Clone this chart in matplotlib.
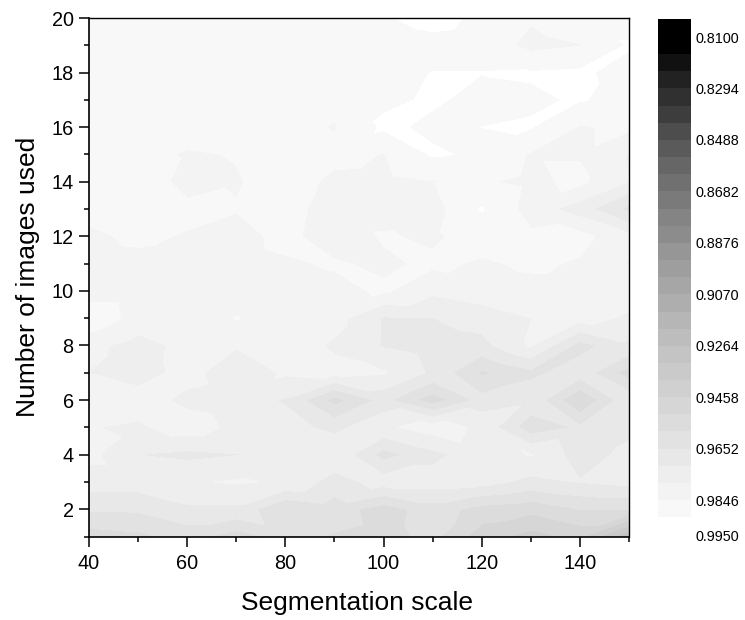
import numpy as np
import matplotlib
matplotlib.use('Agg')
import matplotlib.pyplot as plt
import matplotlib.tri as mtri
from matplotlib.colors import ListedColormap
from matplotlib.ticker import MultipleLocator

plt.rcParams['font.family'] = ['Liberation Sans', 'DejaVu Sans']

# data
seg_scale = [40, 50, 60, 70, 80, 90, 100, 110, 120, 130, 140, 150]
n_images = list(range(1, 21))
accuracy = [
    [.9555, .9571, .9613, .9555, .9613, .9581, .9562, .9607, .9490, .9432, .9478, .9264],
    [.9659, .9662, .9704, .9704, .9584, .9620, .9555, .9620, .9562, .9542, .9587, .9587],
    [.9749, .9749, .9775, .9788, .9775, .9685, .9749, .9749, .9743, .9697, .9720, .9736],
    [.9801, .9716, .9701, .9714, .9743, .9775, .9626, .9697, .9756, .9785, .9685, .9736],
    [.9785, .9772, .9814, .9765, .9743, .9697, .9769, .9814, .9769, .9607, .9662, .9697],
    [.9795, .9814, .9765, .9749, .9710, .9562, .9672, .9549, .9675, .9704, .9520, .9704],
    [.9781, .9749, .9807, .9736, .9791, .9801, .9788, .9704, .9575, .9633, .9691, .9555],
    [.9801, .9756, .9801, .9788, .9817, .9772, .9710, .9685, .9697, .9788, .9626, .9704],
    [.9892, .9820, .9807, .9848, .9814, .9807, .9710, .9716, .9743, .9781, .9807, .9772],
    [.9814, .9814, .9814, .9820, .9820, .9827, .9856, .9795, .9820, .9827, .9827, .9814],
    [.9820, .9827, .9820, .9820, .9837, .9853, .9833, .9859, .9837, .9856, .9840, .9778],
    [.9833, .9859, .9840, .9820, .9866, .9807, .9853, .9833, .9879, .9856, .9866, .9801],
    [.9866, .9872, .9866, .9850, .9872, .9814, .9814, .9820, .9914, .9820, .9749, .9633],
    [.9879, .9905, .9814, .9840, .9879, .9830, .9827, .9843, .9853, .9830, .9862, .9781],
    [.9879, .9872, .9837, .9850, .9872, .9866, .9843, .9917, .9903, .9840, .9840, .9778],
    [.9879, .9879, .9885, .9879, .9879, .9840, .9921, .9901, .9911, .9914, .9840, .9859],
    [.9879, .9879, .9879, .9879, .9879, .9872, .9901, .9917, .9898, .9906, .9914, .9895],
    [.9879, .9879, .9879, .9879, .9872, .9845, .9872, .9912, .9912, .9914, .9921, .9888],
    [.9879, .9879, .9879, .9879, .9879, .9872, .9879, .9892, .9885, .9827, .9843, .9917],
    [.9879, .9879, .9879, .9879, .9879, .9879, .9905, .9930, .9898, .9853, .9885, .9885],
]
levels = [.8032, .8165, .8229, .8294, .8359, .8423, .8488, .8553, .8617, .8682, .8747,
          .8811, .8876, .8941, .9005, .9070, .9135, .9199, .9264, .9329, .9393, .9458,
          .9523, .9587, .9652, .9717, .9782, .9846, .9911, .9985]
band_colors = ['#000000', '#111111', '#222222', '#303030', '#3d3d3d', '#4d4d4d', '#5a5a5a',
               '#666666', '#707070', '#7a7a7a', '#848484', '#8c8c8c', '#969696', '#9e9e9e',
               '#a6a6a6', '#aeaeae', '#b6b6b6', '#bdbdbd', '#c4c4c4', '#cacaca', '#d0d0d0',
               '#d6d6d6', '#dcdcdc', '#e2e2e2', '#e8e8e8', '#eeeeee', '#f3f3f3', '#f8f8f8',
               '#ffffff']
bar_ticks = [.8100, .8294, .8488, .8682, .8876, .9070, .9264, .9458, .9652, .9846, .9979]
bar_labels = ['0.8100', '0.8294', '0.8488', '0.8682', '0.8876', '0.9070', '0.9264',
              '0.9458', '0.9652', '0.9846', '0.9950']
# grid cells (column, row) where the contours run along the other diagonal
flip_cells = [(7, 14), (7, 15), (9, 14), (5, 10), (9, 6)]

W, H = 745, 620
fig = plt.figure(figsize=(W / 100, H / 100), dpi=100)
ax = fig.add_axes([89 / W, 1 - 536.5 / H, 540 / W, 518.5 / H])

# split every grid cell along the diagonal with the higher values, so low
# islands stay apart as they do in the original
z = np.array(accuracy)
nx = len(seg_scale)
triangles = []
for j in range(len(n_images) - 1):
    for i in range(nx - 1):
        a, b = j * nx + i, j * nx + i + 1
        c, d = a + nx, b + nx
        along_ad = z[j, i] + z[j + 1, i + 1] > z[j, i + 1] + z[j + 1, i]
        if (i, j) in flip_cells:
            along_ad = not along_ad
        if along_ad:
            triangles += [[a, b, d], [a, d, c]]
        else:
            triangles += [[a, b, c], [b, d, c]]
xx, yy = np.meshgrid(seg_scale, n_images)
tri = mtri.Triangulation(xx.ravel(), yy.ravel(), triangles)
ax.tricontourf(tri, z.ravel(), levels=levels, colors=band_colors)

ax.set_xlim(40, 150)
ax.set_ylim(1, 20)
ax.xaxis.set_major_locator(MultipleLocator(20))
ax.xaxis.set_minor_locator(MultipleLocator(10))
ax.yaxis.set_major_locator(MultipleLocator(2))
ax.yaxis.set_minor_locator(MultipleLocator(1))
ax.tick_params(which='major', length=7, width=1.1, labelsize=14.3, pad=4)
ax.tick_params(axis='x', which='major', pad=5.5)
ax.tick_params(which='minor', length=3.6, width=1.1)
for side in ['left', 'bottom']:
    ax.spines[side].set_linewidth(1.2)
for side in ['top', 'right']:
    ax.spines[side].set_linewidth(1.0)
ax.set_xlabel('Segmentation scale', fontsize=19, labelpad=13, x=0.496)
ax.set_ylabel('Number of images used', fontsize=19, labelpad=8)

# colour scale on the right, bands stacked from dark (top) to white
cax = fig.add_axes([658 / W, 1 - 537 / H, 33 / W, 518 / H])
cax.pcolormesh([0, 1], levels, np.arange(len(band_colors)).reshape(-1, 1),
               cmap=ListedColormap(band_colors), shading='flat')
cax.set_ylim(levels[-1], levels[0])
cax.set_xlim(0, 1)
cax.set_xticks([])
cax.set_yticks(bar_ticks)
cax.set_yticklabels(bar_labels)
cax.yaxis.tick_right()
cax.tick_params(axis='y', length=0, labelsize=10.4, pad=3.5)
for s in cax.spines.values():
    s.set_visible(False)

fig.savefig('out.png', dpi=100)
